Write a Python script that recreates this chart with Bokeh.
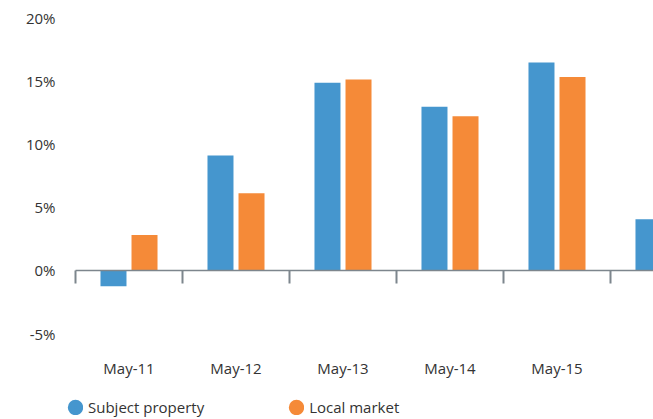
from bokeh.plotting import figure
from bokeh.layouts import row
from bokeh.models import (Range1d, LinearAxis, FixedTicker, PrintfTickFormatter,
                          ColumnDataSource, Legend, LegendItem, Spacer)
from bokeh.transform import dodge
from bokeh.embed import file_html
from bokeh.resources import INLINE

# ---- data ----
categories = ["May-11", "May-12", "May-13", "May-14", "May-15", "May-16"]
subject_property = [-1.25, 9.1, 14.85, 12.95, 16.45, 4.05]
local_market = [2.8, 6.1, 15.1, 12.2, 15.3]
y_ticks = [-5, 0, 5, 10, 15, 20]

BLUE = "#4596CE"
ORANGE = "#F58A38"
TEXT = "#333333"
AXIS = "#7D868D"
FONT = "Open Sans"

pos_s = list(range(len(subject_property)))
pos_m = list(range(len(local_market)))
src_s = ColumnDataSource(dict(x=pos_s, v=subject_property, cat=categories[:len(subject_property)]))
src_m = ColumnDataSource(dict(x=pos_m, v=local_market, cat=categories[:len(local_market)]))

p = figure(width=643, height=419, output_backend="svg", toolbar_location=None,
           x_range=Range1d(-0.6402, 4.9019), y_range=Range1d(-11.78, 20),
           x_axis_location=None, y_axis_location=None,
           min_border_left=50, min_border_right=0, min_border_top=17, min_border_bottom=0)
p.grid.visible = False
p.outline_line_color = None
p.background_fill_color = "white"
p.border_fill_color = "white"

p.vbar(x=dodge("x", -0.145), top="v", bottom=0, width=0.243, source=src_s,
       fill_color=BLUE, line_color=None)
p.vbar(x=dodge("x", 0.145), top="v", bottom=0, width=0.243, source=src_m,
       fill_color=ORANGE, line_color=None)

# y axis: labels only
yax = LinearAxis(ticker=FixedTicker(ticks=y_ticks), formatter=PrintfTickFormatter(format="%d%%"),
                 axis_line_color=None, major_tick_line_color=None, minor_tick_line_color=None,
                 major_tick_in=0, major_tick_out=0,
                 major_label_text_font=FONT, major_label_text_font_size="15px",
                 major_label_text_color=TEXT, major_label_standoff=5,
                 major_label_text_align="left")
p.add_layout(yax, "left")

# zero line with category boundary ticks
bounds = [i - 0.5 for i in range(len(categories) + 1)]
zax = LinearAxis(fixed_location=0, ticker=FixedTicker(ticks=bounds), bounds=(-0.5, 5.5),
                 axis_line_color=AXIS, axis_line_width=1.5,
                 major_tick_line_color=AXIS, major_tick_line_width=2,
                 major_tick_in=0, major_tick_out=13, minor_tick_line_color=None,
                 major_label_text_color=None)
p.add_layout(zax, "below")

# category labels
xax = LinearAxis(fixed_location=-5, ticker=FixedTicker(ticks=list(range(len(categories)))),
                 major_label_overrides={i: c for i, c in enumerate(categories)},
                 axis_line_color=None, major_tick_line_color=None, minor_tick_line_color=None,
                 major_tick_in=0, major_tick_out=0,
                 major_label_text_font=FONT, major_label_text_font_size="15px",
                 major_label_text_color=TEXT, major_label_standoff=24)
p.add_layout(xax, "below")

# legend (circle markers from hidden scatter renderers of the same data)
d_s = p.scatter("x", "v", source=src_s, marker="circle", size=6,
                fill_color=BLUE, line_color=BLUE, line_width=9, visible=False)
d_m = p.scatter("x", "v", source=src_m, marker="circle", size=6,
                fill_color=ORANGE, line_color=ORANGE, line_width=9, visible=False)
legend = Legend(items=[LegendItem(label="Subject property", renderers=[d_s]),
                       LegendItem(label="Local market", renderers=[d_m])],
                orientation="horizontal", location=(7, 2),
                glyph_width=16, glyph_height=16, label_standoff=5, spacing=84,
                padding=0, margin=0, border_line_color=None, background_fill_alpha=0,
                inactive_fill_alpha=0,
                label_text_font=FONT, label_text_font_size="15px", label_text_color=TEXT)
p.add_layout(legend, "center")

layout = row(Spacer(width=10, height=419), p)

open("out.html", "w").write(file_html(layout, INLINE))
